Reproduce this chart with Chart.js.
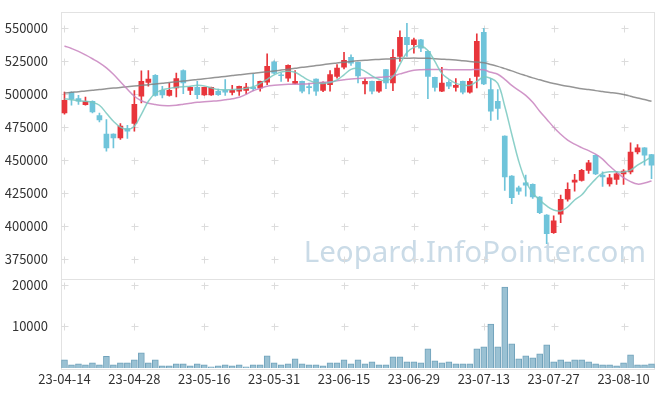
<!DOCTYPE html>
<html>
<head>
<meta charset="utf-8">
<script src="https://cdn.jsdelivr.net/npm/chart.js@4.4.1/dist/chart.umd.min.js"></script>
<style>
  html, body { margin: 0; padding: 0; background: #fff; }
  #wrap { width: 665px; height: 396px; }
</style>
</head>
<body>
<div id="wrap"><canvas id="c"></canvas></div>
<script>
// trading days (yy-mm-dd)
var dates = [
  '23-04-14','23-04-17','23-04-18','23-04-19','23-04-20','23-04-21','23-04-24','23-04-25','23-04-26','23-04-27',
  '23-04-28','23-05-02','23-05-03','23-05-04','23-05-08','23-05-09','23-05-10','23-05-11','23-05-12','23-05-15',
  '23-05-16','23-05-17','23-05-18','23-05-19','23-05-22','23-05-23','23-05-24','23-05-25','23-05-26','23-05-30',
  '23-05-31','23-06-01','23-06-02','23-06-05','23-06-07','23-06-08','23-06-09','23-06-12','23-06-13','23-06-14',
  '23-06-15','23-06-16','23-06-19','23-06-20','23-06-21','23-06-22','23-06-23','23-06-26','23-06-27','23-06-28',
  '23-06-29','23-06-30','23-07-03','23-07-04','23-07-05','23-07-06','23-07-07','23-07-10','23-07-11','23-07-12',
  '23-07-13','23-07-14','23-07-17','23-07-18','23-07-19','23-07-20','23-07-21','23-07-24','23-07-25','23-07-26',
  '23-07-27','23-07-28','23-07-31','23-08-01','23-08-02','23-08-03','23-08-04','23-08-07','23-08-08','23-08-09',
  '23-08-10','23-08-11','23-08-14','23-08-16','23-08-17'
];
var opens = [
  485800,501500,496700,492200,494700,483900,469700,469700,466900,474000,
  477800,498500,509100,514400,503000,499200,504800,518000,503000,505300,
  499500,499500,502300,503000,501500,502300,503000,505300,504800,509300,
  524500,514800,512300,508300,509800,505800,511600,503000,507300,513600,
  520700,528000,524200,507800,509800,502300,518700,508600,528800,543200,
  537700,541400,532600,512900,502300,509100,505300,509800,501700,513600,
  547000,503600,494700,468200,437900,429000,432800,431600,422000,408300,
  394900,408900,420300,433300,434600,442200,453600,438600,432000,435400,
  439600,441100,456300,459300,454300
];
var highs = [
  501700,501800,499200,497900,495000,485800,480800,470000,477800,476500,
  502800,517900,518000,515000,506000,508600,516100,518500,505700,509800,
  505500,505500,504000,511100,506800,506300,508300,515400,510000,530800,
  525500,516400,522300,518000,510000,508600,511800,509400,518000,522500,
  531800,530000,524500,511900,510000,510000,519000,533900,548300,554000,
  542700,541700,533000,513000,520400,510400,511900,510000,511900,546000,
  550200,511900,503600,468500,438200,430300,438600,432000,422300,408600,
  407600,423500,432800,439200,443000,449800,454000,441100,439200,441100,
  442900,463100,461900,459600,454500
];
var lows = [
  485000,491700,492400,491700,485800,479000,456800,459300,465700,466400,
  472000,493400,506100,498500,497200,498500,498000,500500,499700,496700,
  499200,499200,499200,499200,499500,499200,500200,502800,502300,507300,
  515400,509800,509800,507800,501000,500200,499200,502000,502300,512300,
  519300,522000,508600,500200,500200,501500,504300,502800,525000,528800,
  531300,532400,496700,502300,502000,504300,502300,500200,500900,504800,
  507300,480100,481000,427000,416900,424000,422700,421000,409300,386600,
  394400,402500,418900,426500,434000,439900,439000,430000,430300,431600,
  431600,439600,454800,446200,436000
];
var closes = [
  495500,496400,494700,494700,486600,480500,459300,466900,475800,472000,
  492400,509800,511600,499200,499500,503000,511900,508600,505300,499700,
  505300,505300,499700,501700,503000,506100,505500,504300,509800,521200,
  516100,514100,522000,509800,502300,505000,502300,509100,514900,519900,
  525800,523700,514000,509800,502300,509800,508600,528000,543200,537700,
  541400,535100,513600,505300,508600,506100,506800,501700,509800,540200,
  507800,487100,489200,437300,421400,426500,431000,422000,410100,394200,
  403800,420300,427800,434800,442200,448000,439600,437300,436600,439600,
  441600,456100,459300,453800,446200
];
var volumes = [
  1970,770,1000,770,1250,770,2830,770,1250,1250,
  1970,3650,1250,1970,530,530,1000,1000,530,1000,
  770,290,530,770,530,770,290,770,770,2930,
  1250,770,1000,2210,1000,770,770,530,1250,1250,
  1970,1000,1970,1000,1490,770,770,2690,2690,1490,
  1490,1250,4610,1730,1250,1490,1000,1000,1000,4610,
  5090,10600,5090,19490,5810,2210,2930,2450,3410,5570,
  1490,1970,1490,1970,1970,1490,1000,770,770,530,
  1250,3170,770,770,1000
];
// moving averages
var ma5 = [
  496700,495800,495100,494700,493900,491700,485600,479500,475000,473300,
  475800,484800,494700,500800,503400,504500,505300,505800,506100,506800,
  506400,504900,503600,503400,503600,503800,504500,505700,508300,511400,
  514800,517000,517600,516700,513600,510600,508700,508300,508900,511000,
  514800,518900,519700,517400,514000,511400,510200,513300,522700,531800,
  535600,536700,533300,525000,515900,511400,508300,507200,506800,509800,
  513300,512100,508300,490900,469700,449200,434100,425000,419700,415200,
  412100,411400,414400,419700,423500,429900,435600,440100,441100,441100,
  440900,442400,446200,449200,452700
];
var ma20 = [
  536700,534800,532600,529900,527000,523900,520100,515200,509500,503800,
  498500,495100,493200,492200,491500,491400,491700,492400,493200,493900,
  494300,494700,495100,495800,496600,497700,500000,502700,504500,506100,
  506800,507300,507600,507700,507800,508100,508700,509100,509500,510200,
  511000,511700,512100,512300,512500,512900,513300,514000,515500,517000,
  518200,518700,518900,518900,518900,518700,518600,518600,518600,518900,
  518600,516700,515200,511400,506800,503000,499200,493900,487100,481100,
  475000,469700,465200,462100,459500,457200,454500,450800,445500,440900,
  436700,433700,431800,432600,434100
];
var ma60 = [
  501000,501500,502000,502600,503100,503600,504200,504700,505200,505800,
  506300,506800,507300,507900,508400,508900,509500,510100,510600,511200,
  511800,512400,513000,513600,514200,514800,515500,516000,516500,517100,
  517700,518400,519100,519800,520500,521100,521800,522500,523200,523800,
  524400,525000,525500,525900,526200,526500,526800,527000,527300,527400,
  527500,527400,527300,527000,526700,526400,526000,525500,525000,524500,
  523900,522700,521200,519500,517800,515900,514200,512500,511000,509500,
  508200,507100,506100,505200,504300,503600,502800,502100,501400,500800,
  499800,498500,497200,496000,494700
];
var priceTicks = [375000, 400000, 425000, 450000, 475000, 500000, 525000, 550000];
var volTicks = [10000, 20000];
var WATERMARK = 'Leopard.InfoPointer.com';

var RED = '#e8353b', BLUE = '#6fc4da';
var candleColors = closes.map(function (c, i) { return c >= opens[i] ? RED : BLUE; });
var FONT = { family: "'Noto Sans CJK KR', 'Noto Sans', sans-serif", size: 13, lineHeight: 1 };

// light frame, "+" grid marks and the watermark, drawn under the data
var framePlugin = {
  id: 'frame',
  beforeDatasetsDraw: function (chart) {
    var ctx = chart.ctx, a = chart.chartArea, sx = chart.scales.x;
    var sy = chart.scales.y, sv = chart.scales.yv;
    ctx.save();
    ctx.font = "29.5px 'Noto Sans', sans-serif";
    ctx.fillStyle = '#cadbe7';
    ctx.textAlign = 'right';
    ctx.textBaseline = 'alphabetic';
    ctx.fillText(WATERMARK, 646, 262);

    ctx.strokeStyle = '#e2e2e2';
    ctx.lineWidth = 1;
    ctx.strokeRect(Math.round(a.left) + 0.5, Math.round(a.top) + 0.5,
      Math.round(a.right - a.left) - 1, Math.round(a.bottom - a.top));
    ctx.beginPath();
    var dv = Math.round(sv.top) + 0.5;
    ctx.moveTo(a.left, dv); ctx.lineTo(a.right, dv);
    ctx.stroke();

    ctx.strokeStyle = '#dcdcdc';
    var ys = [];
    priceTicks.forEach(function (v) { ys.push(sy.getPixelForValue(v)); });
    volTicks.forEach(function (v) { ys.push(sv.getPixelForValue(v)); });
    ctx.beginPath();
    dates.forEach(function (d, i) {
      if (i % 10 !== 0) return;
      var x = Math.round(sx.getPixelForValue(i)) + 0.5;
      ys.forEach(function (yy) {
        var y = Math.round(yy) + 0.5;
        ctx.moveTo(x - 3, y); ctx.lineTo(x + 4, y);
        ctx.moveTo(x, y - 3); ctx.lineTo(x, y + 4);
      });
    });
    ctx.stroke();
    ctx.restore();
  }
};

function fixedTicks(list) {
  return function (s) { s.ticks = list.map(function (v) { return { value: v }; }); };
}
function plain(v) { return String(v); }

new Chart(document.getElementById('c'), {
  data: {
    labels: dates,
    datasets: [
      { type: 'line', data: ma5, yAxisID: 'y', borderColor: 'rgba(120,200,192,0.85)', borderWidth: 1.5,
        pointRadius: 0, tension: 0.4, order: 1 },
      { type: 'line', data: ma20, yAxisID: 'y', borderColor: 'rgba(200,130,190,0.85)', borderWidth: 1.5,
        pointRadius: 0, tension: 0.4, order: 1 },
      { type: 'line', data: ma60, yAxisID: 'y', borderColor: 'rgba(130,130,130,0.85)', borderWidth: 1.5,
        pointRadius: 0, tension: 0.4, order: 1 },
      { type: 'bar', data: lows.map(function (l, i) { return [l, highs[i]]; }), yAxisID: 'y',
        backgroundColor: candleColors, barThickness: 1, grouped: false, order: 3 },
      { type: 'bar', data: opens.map(function (o, i) { return [o, closes[i]]; }), yAxisID: 'y',
        backgroundColor: candleColors, barThickness: 5, grouped: false, order: 2 },
      { type: 'bar', data: volumes, yAxisID: 'yv', backgroundColor: 'rgb(154,193,211)',
        borderColor: 'rgb(112,162,187)', borderWidth: 1, barThickness: 6, grouped: false, order: 4 }
    ]
  },
  options: {
    responsive: true,
    maintainAspectRatio: false,
    animation: false,
    devicePixelRatio: 1,
    layout: { padding: { top: 8, right: 10, left: 0, bottom: 0 } },
    plugins: { legend: { display: false }, tooltip: { enabled: false } },
    scales: {
      x: {
        type: 'category',
        offset: true,
        grid: { display: false, drawTicks: false },
        border: { display: false },
        ticks: {
          autoSkip: false, maxRotation: 0, minRotation: 0, padding: 5,
          color: '#333', font: FONT,
          callback: function (v, i) { return i % 10 === 0 ? dates[i] : ''; }
        },
        afterFit: function (s) { s.height = 28; }
      },
      yv: {
        type: 'linear', position: 'left', stack: 'panes', stackWeight: 1,
        min: 0, max: 21450,
        grid: { display: false }, border: { display: false },
        afterBuildTicks: fixedTicks(volTicks),
        ticks: { padding: 5, color: '#333', font: FONT, callback: plain },
        afterFit: function (s) { s.width = 61; }
      },
      y: {
        type: 'linear', position: 'left', stack: 'panes', stackWeight: 3,
        min: 359800, max: 562900,
        grid: { display: false }, border: { display: false },
        afterBuildTicks: fixedTicks(priceTicks),
        ticks: { padding: 5, color: '#333', font: FONT, callback: plain },
        afterFit: function (s) { s.width = 61; }
      }
    }
  },
  plugins: [framePlugin]
});
</script>
</body>
</html>
